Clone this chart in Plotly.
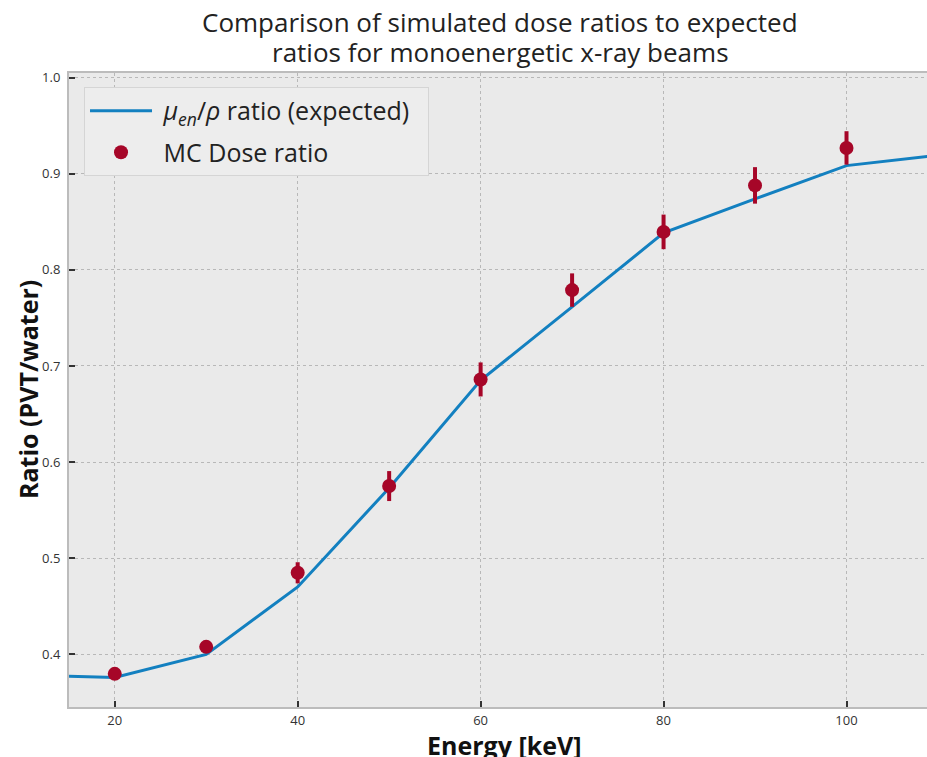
import plotly.graph_objects as go

# Expected mu_en/rho ratio (PVT/water)
energy_line = [15, 20, 30, 40, 50, 60, 70, 80, 90, 100, 110]
ratio_line = [0.377, 0.3757, 0.3997, 0.470, 0.573, 0.685, 0.7615, 0.8385, 0.874, 0.9086, 0.9195]

# Monte Carlo dose ratios
energy_mc = [20, 30, 40, 50, 60, 70, 80, 90, 100]
ratio_mc = [0.3795, 0.4076, 0.4847, 0.575, 0.686, 0.779, 0.8396, 0.888, 0.927]
err_mc = [0.003, 0.004, 0.011, 0.0156, 0.0177, 0.0174, 0.018, 0.019, 0.0174]

x_ticks = [20, 40, 60, 80, 100]
y_ticks = [0.4, 0.5, 0.6, 0.7, 0.8, 0.9, 1.0]

title_lines = ["Comparison of simulated dose ratios to expected",
               "ratios for monoenergetic x-ray beams"]

BLUE = "#1380C0"
RED = "#A60628"
FONT = "Open Sans"
NB = "\u00a0"

fig = go.Figure()
fig.add_trace(go.Scatter(
    x=energy_line, y=ratio_line, mode="lines",
    line=dict(color=BLUE, width=3),
    name=NB + "<i>μ</i><sub><i>en</i></sub>/<i>ρ</i> ratio (expected)" + NB * 2,
    legendgroup="a",
))
fig.add_trace(go.Scatter(
    x=energy_mc, y=ratio_mc, mode="markers",
    marker=dict(color=RED, size=14),
    error_y=dict(type="data", array=err_mc, color=RED, thickness=4, width=0),
    name=NB + "MC Dose ratio",
    legendgroup="b",
))

# figure fills the whole window (body margin removed below)
W, H = 927, 757
L, T = 69, 73
PW, PH = 858, 634
B = H - T - PH

def py(y_fig):
    return (T + PH - y_fig) / PH

def px(x_fig):
    return (x_fig - L) / PW

annotations = [
    dict(text=title_lines[0], xref="paper", yref="paper", x=px(500), y=py(22),
         xanchor="center", yanchor="middle", showarrow=False,
         font=dict(size=26, color="#222", family=FONT)),
    dict(text=title_lines[1], xref="paper", yref="paper", x=px(500), y=py(52),
         xanchor="center", yanchor="middle", showarrow=False,
         font=dict(size=26, color="#222", family=FONT)),
    dict(text="<b>Energy [keV]</b>", xref="paper", yref="paper",
         x=px(504), y=py(745), xanchor="center", yanchor="middle", showarrow=False,
         font=dict(size=25, color="#111", family=FONT)),
    dict(text="<b>Ratio (PVT/water)</b>", xref="paper", yref="paper",
         x=px(28), y=py(390), xanchor="center", yanchor="middle", showarrow=False,
         textangle=-90, font=dict(size=25, color="#111", family=FONT)),
]

fig.update_layout(
    width=W, height=H,
    margin=dict(l=L, r=W - L - PW, t=T, b=B, autoexpand=False),
    paper_bgcolor="white",
    plot_bgcolor="#EAEAEA",
    font=dict(family=FONT, color="#222"),
    showlegend=True,
    legend=dict(
        x=0.0175, y=0.978, xanchor="left", yanchor="top",
        bgcolor="#EDEDED", bordercolor="#D5D5D5", borderwidth=1,
        font=dict(size=25, color="#222", family=FONT),
        itemwidth=62, tracegroupgap=6,
    ),
    annotations=annotations,
)

fig.update_xaxes(
    range=[15, 108.8], automargin=False,
    tickvals=x_ticks,
    ticktext=[str(v) for v in x_ticks],
    ticks="inside", ticklen=6, tickwidth=1.5, tickcolor="#333",
    tickfont=dict(size=13, color="#333"),
    showline=True, linecolor="#BCBCBC", linewidth=2, mirror=True,
    showgrid=True, gridcolor="#B8B8B8", gridwidth=1, griddash="dot",
    zeroline=False,
)
fig.update_yaxes(
    range=[0.345, 1.005], automargin=False,
    tickvals=y_ticks,
    ticktext=[f"{v:.1f}" for v in y_ticks],
    ticks="inside", ticklen=6, tickwidth=1.5, tickcolor="#333",
    tickfont=dict(size=13, color="#333"), ticklabelstandoff=4,
    showline=True, linecolor="#BCBCBC", linewidth=2, mirror=False,
    showgrid=True, gridcolor="#B8B8B8", gridwidth=1, griddash="dot",
    zeroline=False,
)

fig.write_html(
    "out.html",
    config={"displayModeBar": False},
    post_script="document.body.style.margin='0';"
                "document.documentElement.style.overflow='hidden';"
                "document.body.style.overflow='hidden';",
)
